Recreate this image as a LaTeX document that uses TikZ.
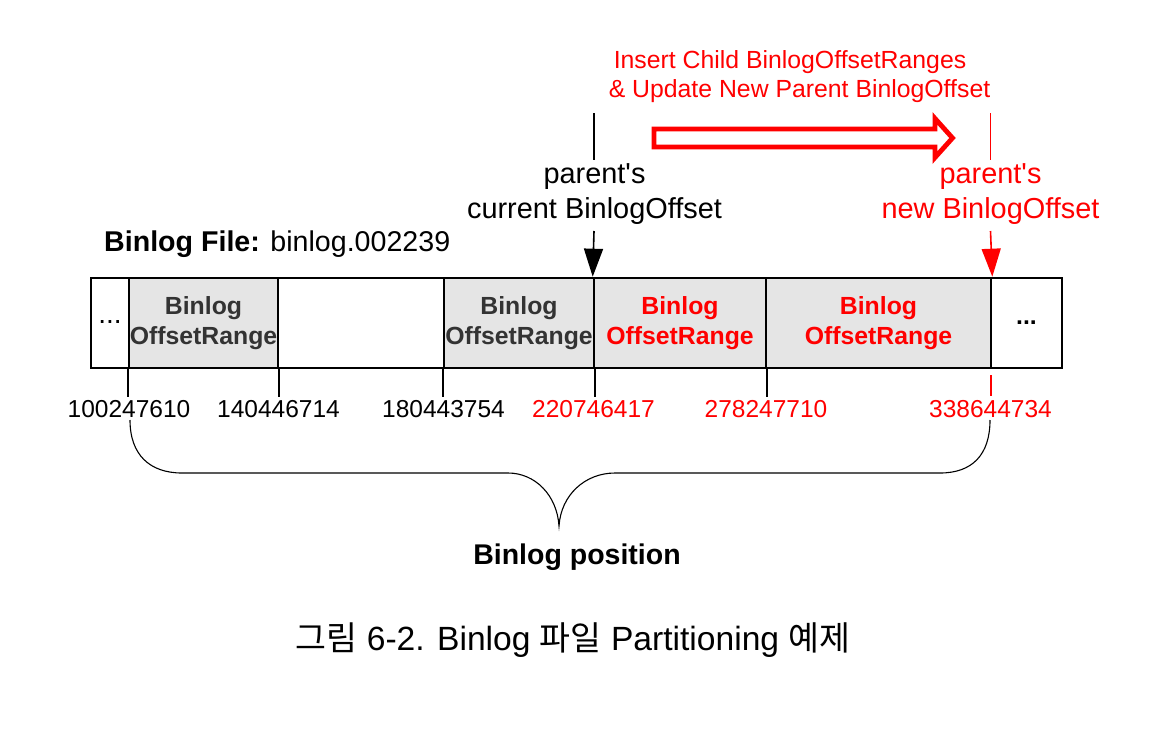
\documentclass[tikz,border=0pt]{standalone}
\usepackage{fontspec}
\setmainfont{Liberation Sans}
\newfontfamily\krfont{Noto Sans CJK KR}
\usetikzlibrary{arrows.meta}
\definecolor{cellgray}{HTML}{E5E5E5}
\definecolor{darktext}{HTML}{333333}
\definecolor{redtext}{HTML}{FF0000}
\tikzset{
  cell/.style={draw=black, line width=2.6pt, minimum height=90pt, inner sep=0pt, align=center,
               font=\fontsize{24.8}{30}\selectfont\bfseries},
  grayfill/.style={fill=cellgray},
  numlabel/.style={anchor=base, inner sep=0pt, font=\fontsize{24.5}{29}\selectfont},
  biglabel/.style={anchor=base, inner sep=0pt, font=\fontsize{28.9}{34}\selectfont},
  toplabel/.style={anchor=base, inner sep=0pt, font=\fontsize{24.8}{30}\selectfont, text=redtext},
  tick/.style={line width=2pt},
  pointer/.style={line width=1.6pt, -{Triangle[width=19pt,length=28pt]}},
}
\begin{document}
\begin{tikzpicture}[x=1pt,y=-1pt]
\useasboundingbox (0,0) rectangle (1174,747);

% cells
\node[cell, minimum width=38pt] (c0) at (110,323) {\raisebox{3pt}{\fontsize{28}{30}\selectfont\mdseries ...}};
\node[cell, grayfill, minimum width=149pt, text=darktext] (c1) at (203.5,323) {Binlog\\OffsetRange};
\node[cell, minimum width=166pt] (c2) at (361,323) {};
\node[cell, grayfill, minimum width=150pt, text=darktext] (c3) at (519,323) {Binlog\\OffsetRange};
\node[cell, grayfill, minimum width=172pt, text=redtext] (c4) at (680,323) {Binlog\\OffsetRange};
\node[cell, grayfill, minimum width=225pt, text=redtext] (c5) at (878.5,323) {Binlog\\OffsetRange};
\node[cell, minimum width=71pt] (c6) at (1026.5,323) {...};

% ticks
\draw[tick] (c1.south west) -- ++(0,28);
\draw[tick] (c1.south east) -- ++(0,28);
\draw[tick] (c3.south west) -- ++(0,28);
\draw[tick] (c3.south east) -- ++(0,28);
\draw[tick] (c4.south east) -- ++(0,28);
\coordinate (rt1) at (990.5,375);
\coordinate (rt2) at (990.5,396);
\draw[tick, redtext] (rt1) -- (rt2);

% numbers
\node[numlabel] (n1) at (129,417) {100247610};
\node[numlabel] (n2) at (278.5,417) {140446714};
\node[numlabel] (n3) at (443.5,417) {180443754};
\node[numlabel, text=redtext] (n4) at (593.5,417) {220746417};
\node[numlabel, text=redtext] (n5) at (766,417) {278247710};
\node[numlabel, text=redtext] (n6) at (990.5,417) {338644734};

% brace
\draw[line width=1.1pt] (130,420) .. controls (130,455) and (150,473) .. (182,473)
  -- (508,473) .. controls (535,473) and (557,495) .. (559,526)
  .. controls (561,495) and (585,473) .. (615,473)
  -- (940,473) .. controls (972,473) and (990,455) .. (990,420);

\node[anchor=base, inner sep=0pt, font=\fontsize{28.5}{32}\selectfont\bfseries] (pos) at (577,564) {Binlog position};

% file label
\node[anchor=base west, inner sep=0pt, font=\fontsize{28.6}{32}\selectfont] (file) at (104,251) {\textbf{Binlog File:} binlog.002239};

% current offset
\coordinate (ct) at (594,113);
\coordinate (cb) at (594,160);
\draw[line width=1.6pt] (ct) -- (cb);
\node[biglabel] (cur1) at (594.5,183) {parent\textquotesingle s};
\node[biglabel] (cur2) at (594.5,218) {current BinlogOffset};
\coordinate (ca) at (594,231);
\draw[pointer] (ca) -- (c4.north west);

% new offset
\coordinate (nt) at (990.5,113);
\coordinate (nb) at (990.5,160);
\draw[line width=1.6pt, redtext] (nt) -- (nb);
\node[biglabel, text=redtext] (new1) at (990.5,183) {parent\textquotesingle s};
\node[biglabel, text=redtext] (new2) at (990.5,218) {new BinlogOffset};
\coordinate (na) at (990.5,231);
\draw[pointer, redtext] (na) -- (c5.north east);

% top red text
\node[toplabel] (ins1) at (790,68) {Insert Child BinlogOffsetRanges};
\node[toplabel] (ins2) at (799.5,97.5) {\& Update New Parent BinlogOffset};

% hollow arrow
\draw[redtext, line width=4.8pt, line join=miter]
  (654,129) -- (935,129) -- (935,118.5) -- (952.5,138) -- (935,157.5) -- (935,147) -- (654,147) -- cycle;

% caption
\node[anchor=base, inner sep=0pt, font=\fontsize{33.6}{38}\selectfont] (cap) at (573,650)
  {{\krfont 그림} 6-2. Binlog {\krfont 파일} Partitioning {\krfont 예제}};
\end{tikzpicture}
\end{document}
